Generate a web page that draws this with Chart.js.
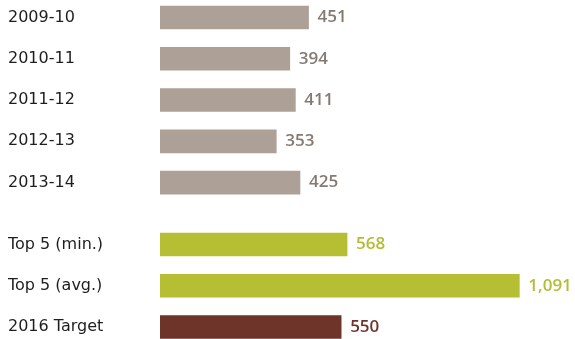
<!DOCTYPE html>
<html>
<head>
<meta charset="utf-8">
<script src="https://cdn.jsdelivr.net/npm/chart.js@4"></script>
<style>
  html, body { margin: 0; padding: 0; background: #ffffff; }
  #wrap { width: 575px; height: 339px; position: relative; }
</style>
</head>
<body>
<div id="wrap"><canvas id="chart"></canvas></div>
<script>
// Attendance by season
const seasons = ['2009-10', '2010-11', '2011-12', '2012-13', '2013-14'];
const seasonValues = [451, 394, 411, 353, 425];

// Benchmarks and target
const benchmarks = ['Top 5 (min.)', 'Top 5 (avg.)', '2016 Target'];
const benchmarkValues = [568, 1091, 550];

const SEASON_BAR = '#ada097', SEASON_TEXT = '#857a72';
const TOP_BAR = '#b6be34', TOP_TEXT = '#b3bc35';
const TARGET_BAR = '#6f3429', TARGET_TEXT = '#6f3429';

// Rows: seasons first, then a half-row gap before the benchmark group
const GROUP_GAP = 0.5;
const labels = seasons.concat(benchmarks);
const values = seasonValues.concat(benchmarkValues);
const rows = labels.map((_, i) => i < seasons.length ? i : i + GROUP_GAP);
const barColors = labels.map((_, i) =>
  i < seasons.length ? SEASON_BAR : (i === labels.length - 1 ? TARGET_BAR : TOP_BAR));
const textColors = labels.map((_, i) =>
  i < seasons.length ? SEASON_TEXT : (i === labels.length - 1 ? TARGET_TEXT : TOP_TEXT));

const fmt = new Intl.NumberFormat('en-US');

const valueLabels = {
  id: 'valueLabels',
  afterDatasetsDraw(chart) {
    const ctx = chart.ctx;
    const meta = chart.getDatasetMeta(0);
    ctx.save();
    ctx.font = '600 17px "Open Sans"';
    ctx.textBaseline = 'middle';
    ctx.textAlign = 'left';
    meta.data.forEach((bar, i) => {
      ctx.fillStyle = textColors[i];
      ctx.fillText(fmt.format(values[i]), bar.x + 9, bar.y);
    });
    ctx.restore();
  }
};

new Chart(document.getElementById('chart'), {
  type: 'bar',
  data: {
    datasets: [{
      data: values.map((v, i) => ({ x: v, y: rows[i] })),
      backgroundColor: barColors,
      borderWidth: 0,
      barThickness: 23
    }]
  },
  options: {
    indexAxis: 'y',
    responsive: true,
    maintainAspectRatio: false,
    animation: false,
    layout: { padding: { left: 8, right: 0, top: 0, bottom: 0 } },
    plugins: { legend: { display: false }, tooltip: { enabled: false } },
    scales: {
      x: {
        type: 'linear',
        display: false,
        min: 0,
        max: 1260
      },
      y: {
        type: 'linear',
        reverse: true,
        offset: false,
        min: -0.424,
        max: rows[rows.length - 1] + 0.29,
        grid: { display: false, offset: false },
        border: { display: false },
        afterBuildTicks(scale) {
          scale.ticks = rows.map(v => ({ value: v }));
        },
        afterFit(scale) {
          scale.width = 152;
          scale.paddingTop = 0;
          scale.paddingBottom = 0;
        },
        ticks: {
          autoSkip: false,
          crossAlign: 'far',
          padding: 0,
          color: '#1e1e1e',
          font: { family: '"DejaVu Sans"', size: 16 },
          callback: (value, index) => labels[index]
        }
      }
    }
  },
  plugins: [valueLabels]
});
</script>
</body>
</html>
